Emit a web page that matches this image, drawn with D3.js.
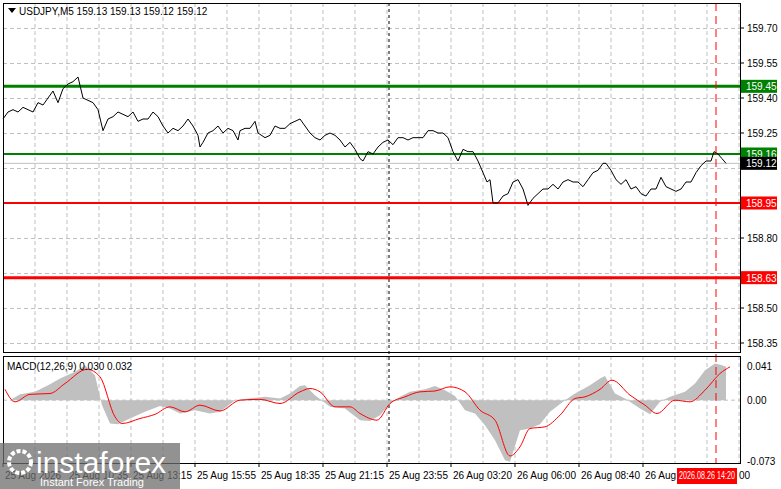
<!DOCTYPE html><html><head><meta charset="utf-8">
<script src="https://cdn.jsdelivr.net/npm/d3@7"></script>
<style>body{margin:0;background:#fff}svg{display:block}text{font-family:"Liberation Sans",Arial,sans-serif}</style>
</head><body><svg id="c" width="781" height="489"></svg><script>
const priceBars=[0,2.5,5,7.5,10,12.5,15,17.5,20,22.5,25,27.5,30,32.5,35,37.5,40,42.5,45,47.5,50,52.5,55,57.5,60,62.5,65,67.5,70,72.5,75,77.5,80,82.5,85,87.5,90,92.5,95,97.5,98.5,100,102.5,105,107.5,110,112.5,115,117.5,118.5,121,123.5,126,127.5,131,133.5,136,138.5,141,143.5,146,148.5,151,153.5,156,158.5,161,163.5,166,168.5,171,173.5,176,178.5,180,182.5,185,187.5,190,192.5,195,197.5,200,202.5,205,207.5,210,212.5,215,217.5,220,222.5,225,227.5,230,232.5,235,237.5,240,242,243.5,245,247.5,250,252.5,255,257.5,260,262.5,265,267.5,270,272.5,275,277.5,280,282.5,285,287.5,290,292.5,295,297.5,300,301.5,304,306.5,309,311.5,314,316.5,319,321.5,324,326.5,329,331.5,334,336.5,339,341.5,344,346.5,349,351.5,354,355.5,357.5,359.5,361.5];
const priceClose=[159.31,159.34,159.35,159.34,159.36,159.35,159.34,159.38,159.37,159.40,159.43,159.38,159.44,159.46,159.47,159.49,159.40,159.39,159.38,159.35,159.26,159.31,159.32,159.34,159.33,159.32,159.34,159.30,159.31,159.31,159.34,159.32,159.28,159.25,159.27,159.26,159.28,159.31,159.28,159.24,159.19,159.21,159.25,159.26,159.28,159.25,159.27,159.26,159.22,159.26,159.27,159.27,159.30,159.25,159.23,159.24,159.28,159.27,159.27,159.29,159.30,159.31,159.28,159.25,159.23,159.22,159.24,159.25,159.24,159.22,159.19,159.21,159.18,159.14,159.13,159.17,159.16,159.19,159.21,159.22,159.20,159.23,159.23,159.22,159.23,159.23,159.23,159.26,159.26,159.25,159.25,159.23,159.17,159.13,159.18,159.17,159.17,159.13,159.08,159.04,159.05,158.95,158.95,158.98,158.99,159.04,159.05,159.01,158.94,158.97,158.99,159.01,159.01,159.03,159.01,159.04,159.05,159.04,159.04,159.02,159.05,159.08,159.09,159.12,159.12,159.09,159.05,159.03,159.05,159.01,159.02,158.99,158.98,159.01,159.01,159.06,159.02,159.01,159.00,159.01,159.04,159.04,159.08,159.11,159.13,159.13,159.17,159.16,159.14,159.12];
const histBars=[0,3.5,8.5,16,23.5,28.5,36,41,46,49.5,53.5,57.5,63.5,71,78.5,83.5,88.5,96,103.5,108.5,116,123.5,131,138.5,143.5,148.5,151,156,163.5,171,178.5,183.5,188.5,193.5,198.5,203.5,211,216,221,226,231,236,241,246,251,253.5,258.5,263.5,268.5,273.5,281,286,293.5,298.5,301,306,311,318.5,323.5,328.5,333.5,341,346,351,356,359.5,361.5];
const histVals=[0,0,0.007,0.010,0.019,0.026,0.034,0.042,0.030,-0.006,-0.028,-0.029,-0.022,-0.014,-0.007,-0.010,-0.016,-0.012,-0.016,-0.014,0,0.002,0.004,0.002,0.008,0.017,0.018,0.006,-0.008,-0.010,-0.024,-0.025,-0.018,-0.004,0.004,0.010,0.013,0.017,0.012,0.005,-0.012,-0.016,-0.030,-0.048,-0.072,-0.074,-0.036,-0.034,-0.029,-0.014,0,0.008,0.018,0.026,0.029,0.008,0.002,-0.010,-0.017,-0.002,0.004,0.010,0.020,0.036,0.044,0.042,0.040];
const sigBars=[1,6,13.5,23.5,31,42,48.5,56,59.5,68.5,76,83.5,91,98.5,108.5,118.5,128.5,138.5,148.5,153.5,158.5,166,173.5,178.5,187,193.5,201,208.5,216,223.5,231,238.5,246,253.5,258.5,263.5,271,278.5,286,291,298.5,304.5,313.5,321,327,336,343.5,351,358.5,363.5];
const sigVals=[0.013,-0.002,0.007,0.008,0.020,0.037,0.028,-0.020,-0.028,-0.022,-0.017,-0.008,-0.014,-0.006,-0.013,0,0.001,-0.004,0.010,0.014,0.010,-0.008,-0.008,-0.016,-0.024,-0.004,0.004,0.010,0.011,0.016,0.010,-0.012,-0.024,-0.067,-0.056,-0.034,-0.032,-0.018,0.002,0.004,0.013,0.024,0.006,-0.006,-0.016,0,-0.002,0.012,0.032,0.040];
const priceTicks=[159.70,159.55,159.40,159.25,158.80,158.50,158.35];
const levels=[{v:159.45,c:"#008000",w:3},{v:159.16,c:"#008000",w:2},{v:158.95,c:"#ff0000",w:2},{v:158.63,c:"#ff0000",w:3}];
const timeLabels=["25 Aug 2026","25 Aug 10:35","25 Aug 13:15","25 Aug 15:55","25 Aug 18:35","25 Aug 21:15","25 Aug 23:55","26 Aug 03:20","26 Aug 06:00","26 Aug 08:40","26 Aug"];
const macdTicks=[0.041,0.00,-0.073];

const svg=d3.select("#c");
const L=3,R=740;
const x=d3.scaleLinear().domain([0,368.5]).range([L,R]);
const y=d3.scaleLinear().domain([158.35,159.70]).range([343,28]);
const ym=d3.scaleLinear().domain([-0.073,0.041]).range([461,366]);
const pTop=3,pBot=352,mTop=356,mBot=463;
const gridX=d3.range(16,369,16);
[[pTop,pBot],[mTop,mBot]].forEach(([a,b])=>{
 svg.selectAll(null).data(gridX).enter().append("line").attr("x1",d=>x(d)).attr("x2",d=>x(d)).attr("y1",a).attr("y2",b)
 .attr("stroke","#c0c0c0").attr("stroke-dasharray","4,3");
});
const gridY=[159.70,159.55,159.40,159.25,159.10,158.95,158.80,158.65,158.50,158.35];
svg.selectAll(null).data(gridY).enter().append("line").attr("x1",L).attr("x2",R).attr("y1",d=>Math.round(y(d))+0.5).attr("y2",d=>Math.round(y(d))+0.5).attr("stroke","#c0c0c0").attr("stroke-dasharray","4,3");
svg.append("line").attr("x1",L).attr("x2",R).attr("y1",ym(0)).attr("y2",ym(0)).attr("stroke","#c0c0c0").attr("stroke-dasharray","4,3");
svg.append("line").attr("x1",x(193)).attr("x2",x(193)).attr("y1",pTop).attr("y2",mBot).attr("stroke","#000").attr("stroke-dasharray","3,3");
svg.append("line").attr("x1",L).attr("x2",R).attr("y1",y(159.12)).attr("y2",y(159.12)).attr("stroke","#c0c0c0");
svg.selectAll(null).data(levels).enter().append("line").attr("x1",L).attr("x2",R).attr("y1",d=>y(d.v)).attr("y2",d=>y(d.v)).attr("stroke",d=>d.c).attr("stroke-width",d=>d.w);
svg.append("path").datum(priceBars.map((b,i)=>[b,priceClose[i]])).attr("d",d3.line().x(d=>x(d[0])).y(d=>y(d[1]))).attr("fill","none").attr("stroke","#000").attr("stroke-width",1);
svg.append("path").datum(histBars.map((b,i)=>[b,histVals[i]])).attr("d",d3.area().x(d=>x(d[0])).y0(ym(0)).y1(d=>ym(d[1]))).attr("fill","#c0c0c0");
svg.append("path").datum(sigBars.map((b,i)=>[b,sigVals[i]])).attr("d",d3.line().curve(d3.curveMonotoneX).x(d=>x(d[0])).y(d=>ym(d[1]))).attr("fill","none").attr("stroke","#ff0000").attr("stroke-width",1);
svg.append("line").attr("x1",x(356.5)).attr("x2",x(356.5)).attr("y1",pTop).attr("y2",mBot).attr("stroke","#ff0000").attr("stroke-dasharray","8,5");
svg.append("rect").attr("x",L+0.5).attr("y",pTop+0.5).attr("width",R-L).attr("height",pBot-pTop).attr("fill","none").attr("stroke","#000");
svg.append("rect").attr("x",L+0.5).attr("y",mTop+0.5).attr("width",R-L).attr("height",mBot-mTop).attr("fill","none").attr("stroke","#000");
const fs=10;
svg.selectAll(null).data(gridY).enter().append("line").attr("x1",R).attr("x2",R+4).attr("y1",d=>y(d)).attr("y2",d=>y(d)).attr("stroke","#000");
svg.selectAll(null).data(priceTicks).enter().append("text").attr("x",R+7).attr("y",d=>y(d)+4).attr("font-size",fs).text(d=>d.toFixed(2));
svg.selectAll(null).data(macdTicks).enter().append("text").attr("x",R+7).attr("y",d=>ym(d)+4).attr("font-size",fs).text(d=>d.toFixed(d===0?2:3));
const boxes=[...levels.map(l=>({v:l.v,c:l.c})),{v:159.12,c:"#000"}];
boxes.forEach(b=>{const yy=y(b.v);
 svg.append("rect").attr("x",R+1).attr("y",yy-6.5).attr("width",36).attr("height",13).attr("fill",b.c);
 svg.append("text").attr("x",R+6).attr("y",yy+4).attr("font-size",fs).attr("fill","#fff").text(b.v.toFixed(2));});
svg.selectAll(null).data(timeLabels).enter().append("g").each(function(d,i){
 const xx=x(i*32);d3.select(this).append("line").attr("x1",xx).attr("x2",xx).attr("y1",mBot).attr("y2",mBot+4).attr("stroke","#000");
 d3.select(this).append("text").attr("x",xx+2).attr("y",479).attr("font-size",fs).text(d);});
svg.append("rect").attr("x",677).attr("y",468).attr("width",60).attr("height",16).attr("fill","#ff0000");
svg.append("text").attr("x",679).attr("y",479).attr("font-size",fs).attr("fill","#fff").attr("textLength",56).attr("lengthAdjust","spacingAndGlyphs").text("2026.08.26 14:20");
svg.append("text").attr("x",739).attr("y",479).attr("font-size",fs).text("00");
svg.append("path").attr("d","M8,8 L16,8 L12,13 Z").attr("fill","#000");
svg.append("text").attr("x",19).attr("y",15).attr("font-size",fs).text("USDJPY,M5  159.13 159.13 159.12 159.12");
svg.append("text").attr("x",7).attr("y",370).attr("font-size",fs).text("MACD(12,26,9) 0.030 0.032");
svg.append("rect").attr("x",0).attr("y",443).attr("width",180).attr("height",46).attr("fill","#6e6e6e").attr("opacity",0.75);
svg.append("circle").attr("cx",20).attr("cy",462).attr("r",11).attr("fill","none").attr("stroke","#fff").attr("stroke-width",4).attr("stroke-dasharray","4,2");
svg.append("text").attr("x",36).attr("y",473).attr("font-size",30).attr("fill","#fff").text("instaforex");
svg.append("text").attr("x",40).attr("y",486).attr("font-size",11).attr("fill","#fff").text("Instant Forex Trading");
</script></body></html>
